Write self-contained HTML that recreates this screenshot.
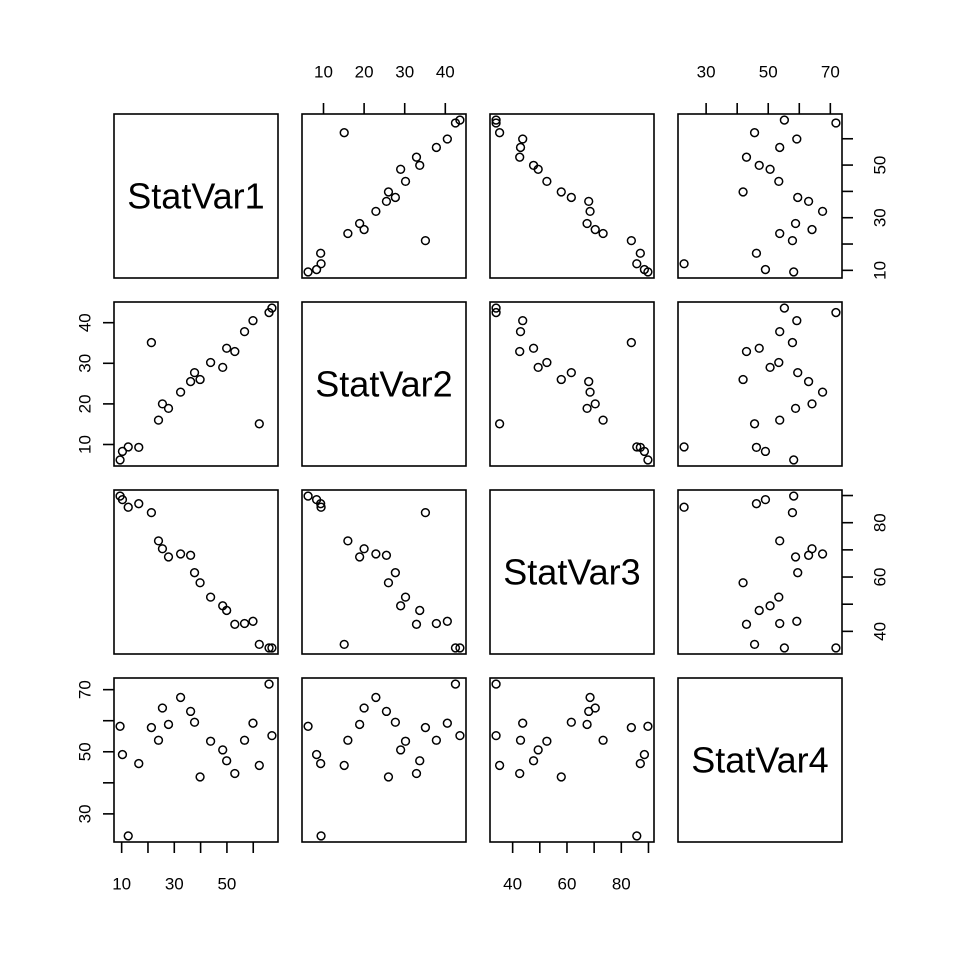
<!DOCTYPE html>
<html><head><meta charset="utf-8"><style>
html,body{margin:0;padding:0;background:#fff;}
svg{display:block;font-family:"Liberation Sans",Arial,sans-serif;}
</style></head><body>
<svg id="chart" width="960" height="960" viewBox="0 0 960 960"></svg>
<script>
const varNames = ["StatVar1","StatVar2","StatVar3","StatVar4"];
const statVar1 = [9.4,10.3,12.5,16.5,21.3,24.0,25.5,27.8,32.4,36.2,37.7,39.8,43.8,48.4,49.9,53.0,56.7,59.9,62.3,66.0,67.1];
const statVar2 = [6.2,8.3,9.4,9.3,35.1,16.0,20.0,18.9,22.9,25.5,27.7,26.0,30.2,29.0,33.7,32.9,37.8,40.5,15.1,42.5,43.6];
const statVar3 = [89.8,88.5,85.7,87.0,83.7,73.3,70.4,67.4,68.5,68.0,61.6,57.9,52.6,49.4,47.7,42.6,42.9,43.7,35.2,33.9,33.9];
const statVar4 = [58.2,49.1,22.9,46.2,57.8,53.7,64.1,58.8,67.5,63.0,59.5,41.9,53.4,50.6,47.1,43.0,53.7,59.2,45.6,71.8,55.2];
const ticks1 = [10,20,30,40,50,60];
const ticks2 = [10,20,30,40];
const ticks3 = [40,50,60,70,80,90];
const ticks4 = [30,40,50,60,70];
const labels1 = [10,30,50];
const labels2 = [10,20,30,40];
const labels3 = [40,60,80];
const labels4 = [30,50,70];

const data = [statVar1,statVar2,statVar3,statVar4];
const tickSets = [ticks1,ticks2,ticks3,ticks4];
const labelSets = [labels1,labels2,labels3,labels4];
const svg = document.getElementById('chart');
const NS = 'http://www.w3.org/2000/svg';
const P0 = 114, PS = 164, GAP = 24;
function mk(tag, attrs, parent){const e=document.createElementNS(NS,tag);for(const k in attrs)e.setAttribute(k,attrs[k]);(parent||svg).appendChild(e);return e;}
function range(v){const mn=Math.min(...v),mx=Math.max(...v),d=(mx-mn)*0.04;return [mn-d,mx+d];}
const ranges = data.map(range);
function pos(i){return P0 + i*(PS+GAP);}
function sx(j,v){const r=ranges[j];return pos(j)+(v-r[0])/(r[1]-r[0])*PS;}
function sy(i,v){const r=ranges[i];return pos(i)+PS-(v-r[0])/(r[1]-r[0])*PS;}

for(let i=0;i<4;i++){
  for(let j=0;j<4;j++){
    const g = mk('g',{});
    
    
    const box = mk('rect',{x:pos(j),y:pos(i),width:PS,height:PS,fill:'none',stroke:'#000','stroke-width':1.6},g);
    
    
    if(i===j){
      const t = mk('text',{x:pos(j)+PS/2,y:pos(i)+PS/2,'font-size':36,'text-anchor':'middle','dominant-baseline':'central',fill:'#000'},g);
      t.textContent = varNames[i];
      
      
    } else {
      for(let k=0;k<data[0].length;k++){
        const c = mk('circle',{cx:sx(j,data[j][k]),cy:sy(i,data[i][k]),r:3.9,fill:'none',stroke:'#000','stroke-width':1.5},g);
        
        
      }
    }
  }
}
for(let j=0;j<4;j++){
  const bottom = (j%2===0);
  const yEdge = bottom ? pos(3)+PS : pos(0);
  const dir = bottom ? 1 : -1;
  const g = mk('g',{});
  
  
  const t = tickSets[j];
  tickSets[j].forEach(v=>{
    const l = mk('line',{x1:sx(j,v),x2:sx(j,v),y1:yEdge,y2:yEdge+dir*11,stroke:'#000','stroke-width':1.6},g);
    
    
  });
  labelSets[j].forEach(v=>{
    const tx = mk('text',{x:sx(j,v),y:yEdge+dir*42,'font-size':17,'text-anchor':'middle','dominant-baseline':'central',fill:'#000'},g);
    tx.textContent = v;
    
    
  });
}
for(let i=0;i<4;i++){
  const right = (i%2===0);
  const xEdge = right ? pos(3)+PS : pos(0);
  const dir = right ? 1 : -1;
  const g = mk('g',{});
  
  
  tickSets[i].forEach(v=>{
    const l = mk('line',{x1:xEdge,x2:xEdge+dir*11,y1:sy(i,v),y2:sy(i,v),stroke:'#000','stroke-width':1.6},g);
    
    
  });
  const off = right ? 38 : 29;
  labelSets[i].forEach(v=>{
    const x = xEdge+dir*off, y = sy(i,v);
    const tx = mk('text',{x:x,y:y,'font-size':17,'text-anchor':'middle','dominant-baseline':'central',fill:'#000',transform:'rotate(-90 '+x+' '+y+')'},g);
    tx.textContent = v;
    
    
  });
}
</script>
</body></html>
